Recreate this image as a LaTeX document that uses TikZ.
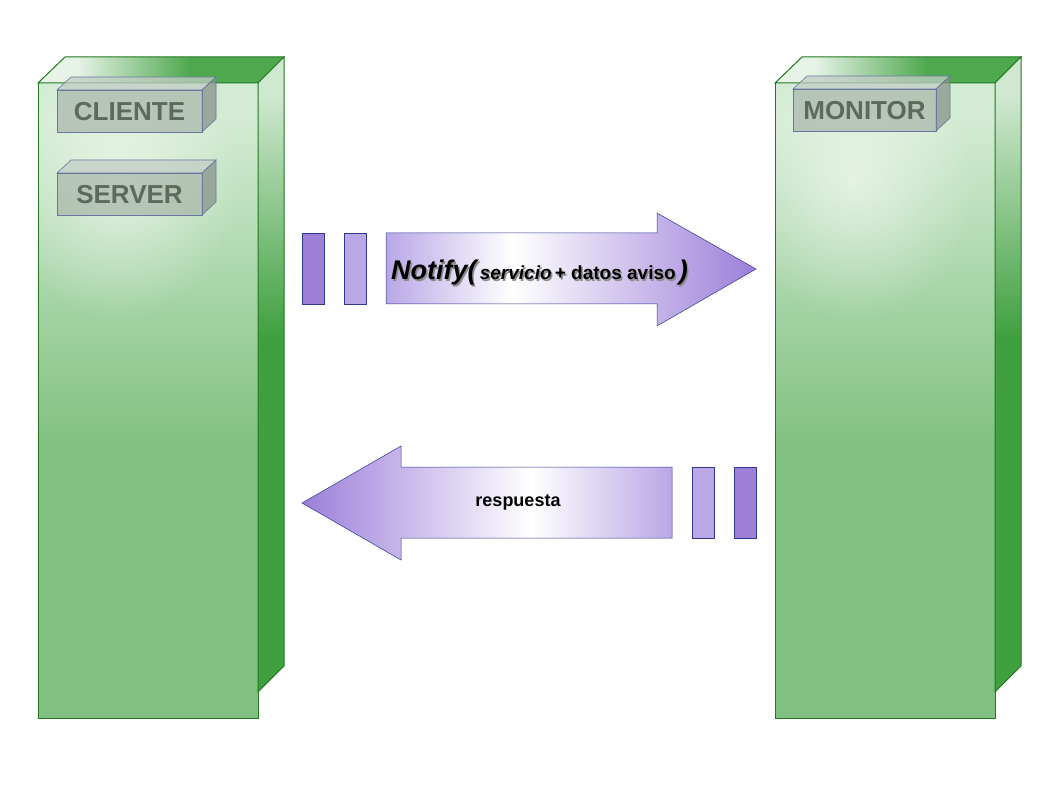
\documentclass[tikz,border=0pt]{standalone}
\usepackage{fontspec}
\setmainfont{Liberation Sans}
\usetikzlibrary{fadings}

\definecolor{boxgreen}{HTML}{80C080}
\definecolor{boxlight}{HTML}{D2EBD2}
\definecolor{sidedark}{HTML}{40A040}
\definecolor{sidelight}{HTML}{D0E8D0}
\definecolor{topdark}{HTML}{4EA84E}
\definecolor{toplight}{HTML}{E6F3E6}
\definecolor{edgegreen}{HTML}{1F7A1F}
\definecolor{tagfill}{HTML}{AAB8AC}
\definecolor{tagedge}{HTML}{6878A0}
\definecolor{tagtext}{HTML}{5C6A5C}
\definecolor{purpdark}{HTML}{9C7FD9}
\definecolor{purplight}{HTML}{B9A7E6}
\definecolor{purpedge}{HTML}{303890}

\pgfdeclareverticalshading{frontshade}{100bp}{color(0bp)=(boxgreen); color(46bp)=(boxgreen); color(72bp)=(boxlight); color(100bp)=(boxlight)}
\pgfdeclareverticalshading{sideshade}{100bp}{color(0bp)=(sidedark); color(53bp)=(sidedark); color(72bp)=(sidelight); color(100bp)=(sidelight)}
\pgfdeclarehorizontalshading{topshade}{100bp}{color(0bp)=(toplight); color(33bp)=(toplight); color(56bp)=(topdark); color(100bp)=(topdark)}
\pgfdeclarehorizontalshading{notifyshade}{100bp}{color(0bp)=(purplight); color(25bp)=(purplight); color(42bp)=(white); color(75bp)=(purpdark); color(100bp)=(purpdark)}
\pgfdeclarehorizontalshading{replyshade}{100bp}{color(0bp)=(purpdark); color(25bp)=(purpdark); color(56bp)=(white); color(75bp)=(purplight); color(100bp)=(purplight)}

\tikzfading[name=softglow, inner color=transparent!45, outer color=transparent!100]

\begin{document}
\begin{tikzpicture}[x=1pt, y=-1pt,
    face/.style={draw=edgegreen, line width=1pt},
    tag/.style={draw=tagedge, line width=0.6pt, fill=tagfill, fill opacity=0.75},
    tagname/.style={text=tagtext, font=\bfseries\fontsize{26}{30}\selectfont, inner sep=0pt},
    bar/.style={draw=purpedge, line width=0.5pt, minimum width=22pt, minimum height=71pt, inner sep=0pt},
    flow/.style={draw=purpedge, line width=0.5pt},
    msg/.style={font=\bfseries\fontsize{18}{20}\selectfont, inner sep=0pt}]
    \useasboundingbox[fill=white] (0,0) rectangle (1058,794);

    % the two green blocks
    \foreach \x/\n in {38/cli, 775/mon} {
        \coordinate (\n) at (\x, 83);
        \shade[shading=frontshade] (\x, 83) rectangle +(220, 635);
        \begin{scope}
            \clip (\x, 83) rectangle +(220, 635);
            \fill[white, path fading=softglow] (\x+80, 180) ellipse (120 and 140);
        \end{scope}
        \draw[face] (\x, 83) rectangle +(220, 635);
        \shade[face, shading=topshade] (\x, 83) -- ++(27, -26) -- ++(219, 0) -- ++(-26, 26) -- cycle;
        \shade[face, shading=sideshade] (\x+220, 83) -- ++(26, -26) -- ++(0, 609) -- ++(-26, 26) -- cycle;
    }

    % little tags on the blocks
    \foreach \x/\y/\w/\t/\n in {57/90/145/CLIENTE/cliente, 57/173/145/SERVER/server, 793/89/143/MONITOR/monitor} {
        \draw[tag, fill=tagfill!70!white] (\x, \y) -- ++(14, -13) -- ++(\w, 0) -- ++(-14, 13) -- cycle;
        \draw[tag, fill=tagfill!80!black] (\x+\w, \y) -- ++(14, -13) -- ++(0, 42) -- ++(-14, 13) -- cycle;
        \draw[tag] (\x, \y) rectangle +(\w, 42);
        \node[tagname] (\n) at (\x+\w/2, \y+22) {\t};
    }

    % outgoing message
    \foreach \i/\x/\c in {1/313/purpdark, 2/355/purplight} {
        \node[bar, fill=\c] (out\i) at (\x, 268.5) {};
    }
    \shade[flow, shading=notifyshade] (386, 233) -- (657, 233) -- (657, 213) -- (756, 269)
        -- (657, 326) -- (657, 304) -- (386, 304) -- cycle;
    \node[anchor=base west, inner sep=0pt, text=black!45] (notifyshadow) at (392.5, 281.5)
        {{\bfseries\itshape\fontsize{27}{30}\selectfont Notify(}{\bfseries\itshape\fontsize{19}{20}\selectfont\,servicio}{\bfseries\fontsize{19}{20}\selectfont\,+ datos aviso\,}{\bfseries\itshape\fontsize{27}{30}\selectfont)}};
    \node[anchor=base west, inner sep=0pt] (notify) at (391, 280)
        {{\bfseries\itshape\fontsize{27}{30}\selectfont Notify(}{\bfseries\itshape\fontsize{19}{20}\selectfont\,servicio}{\bfseries\fontsize{19}{20}\selectfont\,+ datos aviso\,}{\bfseries\itshape\fontsize{27}{30}\selectfont)}};

    % reply
    \shade[flow, shading=replyshade] (672, 467) -- (401, 467) -- (401, 446) -- (302, 503)
        -- (401, 560) -- (401, 538) -- (672, 538) -- cycle;
    \foreach \i/\x/\c in {1/703.5/purplight, 2/745.5/purpdark} {
        \node[bar, fill=\c] (back\i) at (\x, 502.5) {};
    }
    \node[msg] (reply) at (518, 502) {respuesta};
\end{tikzpicture}
\end{document}
